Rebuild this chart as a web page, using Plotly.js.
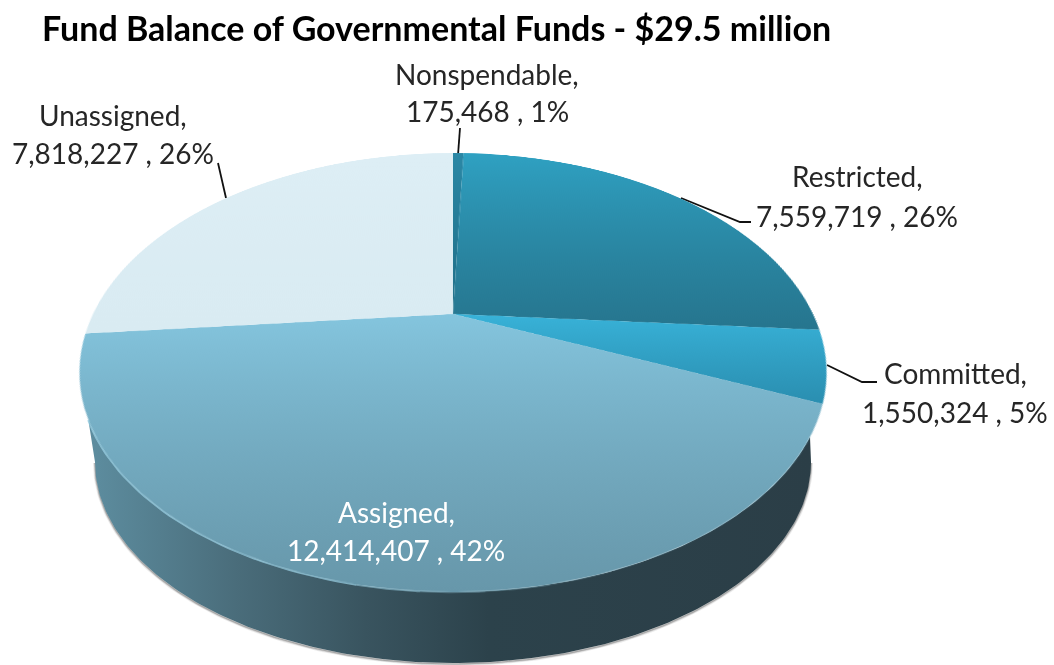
<!DOCTYPE html>
<html><head><meta charset="utf-8">
<script src="https://cdn.plot.ly/plotly-3.0.1.min.js"></script>
<style>
html,body{margin:0;padding:0;background:#fff;overflow:hidden}
#wall,#chart{position:absolute;left:0;top:0;width:1054px;height:665px}
#wall{z-index:0}#chart{z-index:1}
</style></head><body>
<div id="wall"></div><div id="chart"></div>
<script>
const chartTitle = 'Fund Balance of Governmental Funds - $29.5 million';
const categories = ['Nonspendable','Restricted','Committed','Assigned','Unassigned'];
const values = [175468,7559719,1550324,12414407,7818227];
const percents = [1,26,5,42,26];
const labelX = [487,857,955,396,113];
const labelY1 = [74,176,373,512,115];
const labelY2 = [111,216,412,550,153];
const labelColors = ['#262626','#262626','#262626','#ffffff','#262626'];
const gradients = [['#2b88a6','#1f6f88'],['#2fa1c2','#26758e'],['#38b2d8','#2a8eb0'],['#84c5de','#6797aa'],['#ddeef5','#d9ebf2']];
const W=1054,H=665;
const FONT='Lato, "Open Sans", sans-serif';

// top face geometry: perspective view of a disc (page pixels)
const apex=[453,314], k=-0.2665, a=360, b=203.9;
const topEll={cx:453,cy:372.5,rx:373.5,ry:219.5};
const lowEll={cx:453,cy:462,rx:358,ry:201};
function ell(e,from,to,n){const xs=[],ys=[];for(let i=0;i<=n;i++){const t=(from+(to-from)*i/n)*Math.PI/180;xs.push(e.cx+e.rx*Math.cos(t));ys.push(e.cy+e.ry*Math.sin(t));}return [xs,ys];}
const rimL=180-Math.asin((420-topEll.cy)/topEll.ry)*180/Math.PI;
const rimR=Math.asin((437-topEll.cy)/topEll.ry)*180/Math.PI;
const lowArc=ell(lowEll,180,0,180);
const rimArc=ell(topEll,rimR,rimL,120);
const wallX=lowArc[0].concat(rimArc[0]);
const wallY=lowArc[1].concat(rimArc[1]);
const rimFade=[[rimL,105,0.7],[105,95,0.5],[95,85,0.32],[85,75,0.18],[75,65,0.08]];

const ax={range:[0,W],visible:false,fixedrange:true};
const ay={range:[H,0],visible:false,fixedrange:true};
const leaders=[
 [[460,128],[458,155]],
 [[218,163],[226,198]],
 [[681,198],[740,222],[751,222]],
 [[827,365],[862,382],[877,382]]
];
const shadows=[[4,0.10],[2.4,0.18],[1.2,0.28]];
const wallTraces=shadows.map(s=>({type:'scatter',mode:'lines',x:lowArc[0],y:lowArc[1].map(v=>v+1),line:{color:'rgba(70,70,70,'+s[1]+')',width:s[0]},hoverinfo:'skip'})).concat([
 {type:'scatter',mode:'lines',x:wallX,y:wallY,fill:'toself',line:{width:0},hoverinfo:'skip',
  fillgradient:{type:'horizontal',start:90,stop:815,colorscale:[[0,'#5d8d9f'],[0.2,'#4a6d7b'],[0.38,'#39545f'],[0.55,'#2c424b'],[1,'#2b3e47']]}}
]).concat(rimFade.map(f=>{const p=ell(topEll,f[0],f[1],40);return {type:'scatter',mode:'lines',x:p[0],y:p[1],line:{color:'rgba(160,215,235,'+f[2]+')',width:2.4},hoverinfo:'skip'};}))
.concat(leaders.map(l=>({type:'scatter',mode:'lines',x:l.map(p=>p[0]),y:l.map(p=>p[1]),line:{color:'#111',width:1.8},hoverinfo:'skip'})));
const cfg={staticPlot:true,displayModeBar:false};
Plotly.newPlot('wall',wallTraces,{width:W,height:H,margin:{l:0,r:0,t:0,b:0},showlegend:false,paper_bgcolor:'#fff',plot_bgcolor:'rgba(0,0,0,0)',xaxis:ax,yaxis:ay},cfg);

const note=(t,x,y,c)=>({text:t,xref:'paper',yref:'paper',x:x/W,y:1-y/H,xanchor:'center',yanchor:'middle',showarrow:false,font:{family:FONT,size:28,color:c}});
const annotations=[];
categories.forEach((c,i)=>{
  annotations.push(note(c+',',labelX[i],labelY1[i],labelColors[i]));
  annotations.push(note(values[i].toLocaleString('en-US')+' , '+percents[i]+'%',labelX[i],labelY2[i],labelColors[i]));
});
Plotly.newPlot('chart',[{type:'pie',labels:categories,values:values,sort:false,direction:'clockwise',rotation:0,
  textinfo:'none',hoverinfo:'skip',showlegend:false,marker:{colors:gradients.map(g=>g[0]),line:{width:0}},domain:{x:[0,1],y:[0,1]}}],
 {width:W,height:H,margin:{l:0,r:0,t:0,b:0},showlegend:false,paper_bgcolor:'rgba(0,0,0,0)',
  title:{text:chartTitle,x:42/W,xanchor:'left',xref:'paper',y:1-29/H,yanchor:'middle',yref:'paper',font:{family:FONT,size:34,color:'#000',weight:700}},
  annotations:annotations},cfg).then(gd=>{
  const svg=gd.querySelector('.main-svg');
  const NS='http://www.w3.org/2000/svg';
  const defs=svg.querySelector('defs')||svg.insertBefore(document.createElementNS(NS,'defs'),svg.firstChild);
  gradients.forEach((g,i)=>{
    const lg=document.createElementNS(NS,'linearGradient');
    lg.setAttribute('id','sliceGrad'+i);lg.setAttribute('x1','0');lg.setAttribute('y1','0');lg.setAttribute('x2','0');lg.setAttribute('y2','1');
    g.forEach((col,j)=>{const s=document.createElementNS(NS,'stop');s.setAttribute('offset',j);s.setAttribute('stop-color',col);lg.appendChild(s);});
    defs.appendChild(lg);
  });
  svg.querySelectorAll('.slice path.surface').forEach((p,i)=>{p.style.fill='url(#sliceGrad'+i+')';});
  // perspective projection of the pie's own layer onto the tilted disc
  const cx=W/2,cy=H/2,R=H/2,w0=1-k*cy/R;
  const m=[a/R,0,0,0, apex[0]*k/R,(apex[1]*k+b)/R,0,k/R, 0,0,1,0, apex[0]*w0-a*cx/R,apex[1]*w0-b*cy/R,0,w0];
  svg.style.transformOrigin='0 0';
  svg.style.transform='matrix3d('+m.join(',')+')';
});
</script></body></html>
